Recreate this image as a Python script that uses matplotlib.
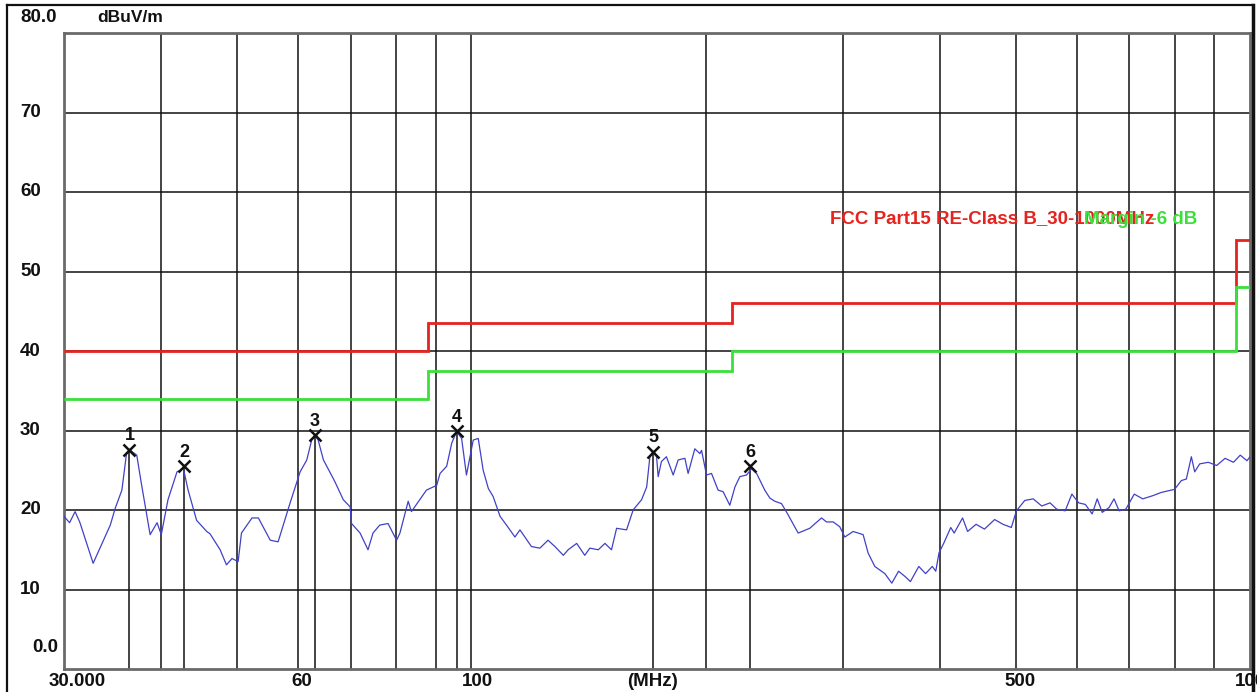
import matplotlib
matplotlib.use('Agg')
import matplotlib.pyplot as plt
from matplotlib import transforms
from matplotlib.lines import Line2D
from matplotlib.ticker import NullLocator

# ---------------- data ----------------
freq_mhz = [30.0, 30.5, 31.0, 31.45, 32.7, 34.4, 34.9, 35.6, 36.1, 36.5, 37.2, 37.7, 38.7, 39.5, 40.0,
            40.8, 41.9, 42.7, 43.3, 44.4, 45.75, 46.2, 47.6, 48.5, 49.3, 50.2, 50.7, 52.3, 53.3, 55.2,
            56.5, 58.5, 60.3, 61.5, 62.4, 63.0, 63.6, 64.6, 66.8, 68.5, 69.9, 70.2, 72.0, 73.7, 74.8,
            76.3, 78.2, 80.2, 81.0, 83.0, 83.8, 87.6, 90.3, 91.2, 93.0, 94.4, 95.8, 97.2, 98.6, 100.6,
            102.1, 103.6, 105.2, 106.7, 108.9, 111.0, 113.8, 115.5, 119.5, 122.5, 125.5, 128.1, 131.3,
            133.2, 136.6, 139.9, 142.0, 145.6, 148.5, 151.4, 153.7, 158.3, 161.4, 165.5, 168.0, 169.6,
            171.3, 173.0, 173.8, 175.5, 178.1, 181.7, 184.4, 188.1, 189.9, 193.7, 196.6, 197.6, 200.5,
            203.5, 207.5, 210.6, 214.8, 218.1, 221.3, 225.7, 229.1, 232.5, 238.2, 241.8, 245.4, 250.3,
            255.2, 262.9, 272.1, 281.7, 285.9, 291.6, 297.3, 301.8, 309.3, 318.6, 323.3, 329.8, 339.7,
            346.8, 353.8, 361.0, 366.4, 375.6, 383.2, 390.9, 394.9, 398.7, 404.7, 412.8, 417.0, 427.5,
            433.9, 444.9, 456.1, 470.0, 481.8, 493.8, 501.3, 513.8, 526.8, 540.3, 553.6, 564.7, 579.0,
            590.6, 602.6, 614.6, 627.1, 636.5, 646.0, 659.1, 669.0, 679.1, 692.7, 710.2, 728.2, 750.1,
            768.8, 800.2, 816.2, 828.5, 840.8, 849.2, 861.8, 883.9, 906.2, 929.0, 952.3, 971.6, 991.1,
            1000.0]
level_dbuv = [19.2, 18.4, 19.8, 18.4, 13.3, 18.1, 20.2, 22.5, 27.2, 27.5, 26.9, 23.4, 16.9, 18.4, 16.9,
              21.3, 24.8, 25.2, 22.5, 18.7, 17.3, 17.0, 15.0, 13.1, 13.9, 13.5, 17.1, 19.0, 19.0, 16.2,
              16.0, 20.8, 24.8, 26.3, 28.8, 29.4, 28.8, 26.3, 23.6, 21.3, 20.4, 18.3, 17.1, 15.0, 17.1,
              18.1, 18.3, 16.2, 17.1, 21.1, 19.8, 22.5, 23.1, 24.6, 25.5, 28.4, 29.9, 29.0, 24.4, 28.8,
              29.0, 25.0, 22.7, 21.7, 19.2, 18.1, 16.6, 17.5, 15.4, 15.2, 16.2, 15.4, 14.3,
              15.0, 15.8, 14.3, 15.2, 15.0, 15.8, 15.0, 17.7, 17.5, 20.0, 21.3, 22.9, 26.7,
              27.3, 26.7, 24.2, 26.1, 26.7, 24.4, 26.3, 26.5, 24.6, 27.7, 27.1, 27.5, 24.4,
              24.6, 22.5, 22.3, 20.6, 22.9, 24.2, 24.4, 25.2, 24.6, 22.5, 21.5, 21.1, 20.8,
              19.4, 17.1, 17.7, 19.0, 18.5, 18.5, 17.9, 16.6, 17.3, 16.9, 14.6, 12.9, 12.0,
              10.8, 12.3, 11.6, 11.0, 12.9, 12.0, 12.9, 12.3, 14.6, 15.9, 17.8, 17.1, 19.0,
              17.3, 18.2, 17.6, 18.8, 18.2, 17.8, 19.9, 21.2, 21.4, 20.5, 20.9, 20.1, 19.9,
              22.0, 20.9, 20.7, 19.5, 21.4, 19.7, 20.3, 21.4, 19.9, 20.1, 22.0, 21.4, 21.8,
              22.2, 22.6, 23.7, 23.9, 26.7, 24.8, 25.8, 26.0, 25.6, 26.5, 26.0, 26.9, 26.2,
              26.7]

limit_edges_mhz = [30, 88, 216, 960, 1000]
limit_levels = [40.0, 43.5, 46.0, 54.0]
margin_db = 6.0

marker_ids = ['1', '2', '3', '4', '5', '6']
marker_freq = [36.4, 42.8, 63.0, 95.8, 171.2, 228.3]
marker_level = [27.6, 25.5, 29.4, 29.9, 27.3, 25.5]

grid_x = [40, 50, 60, 70, 80, 90, 100, 200, 300, 400, 500, 600, 700, 800, 900]
grid_y = [10, 20, 30, 40, 50, 60, 70]

xtick_vals = [30, 60, 100, 500, 1000]
xtick_text = ['30.000', '60', '100', '500', '1000']
ytick_vals = [80, 70, 60, 50, 40, 30, 20, 10, 0]
ytick_text = ['80.0', '70', '60', '50', '40', '30', '20', '10', '0.0']

limit_name = 'FCC Part15 RE-Class B_30-1000MHz'
margin_name = 'Margin -6 dB'
unit_text = 'dBuV/m'
freq_unit = '(MHz)'

# ---------------- style ----------------
plt.rcParams['font.family'] = ['Liberation Sans', 'DejaVu Sans']
FS = 13.5
W, H = 1257, 692
fig = plt.figure(figsize=(W / 100, H / 100), dpi=100)
fig.patch.set_facecolor('white')
x0, x1, y0, y1 = 64, 1250, 33, 669
ax = fig.add_axes([x0 / W, 1 - y1 / H, (x1 - x0) / W, (y1 - y0) / H])
ax.set_xscale('log')
ax.set_xlim(30, 1000)
ax.set_ylim(0, 80)

ax.set_xticks(grid_x)
ax.xaxis.set_minor_locator(NullLocator())
ax.set_yticks(grid_y)
ax.tick_params(length=0, labelbottom=False, labelleft=False)
ax.grid(True, color='#111111', linewidth=1.1, zorder=1)
ax.set_axisbelow(True)
for s in ax.spines.values():
    s.set_color('#6a6a6a')
    s.set_linewidth(2.0)

# limit lines
ax.stairs(limit_levels, limit_edges_mhz, baseline=None, color='#e5231f', linewidth=2.0, zorder=3)
ax.stairs([v - margin_db for v in limit_levels], limit_edges_mhz, baseline=None,
          color='#3be03b', linewidth=2.0, zorder=3)

# measurement trace
ax.plot(freq_mhz, level_dbuv, color='#4141c8', linewidth=0.9, zorder=4)

# markers
ax.vlines(marker_freq, 0, marker_level, color='#111111', linewidth=1.1, zorder=2)
ax.plot(marker_freq, marker_level, linestyle='none', marker='x', markersize=8,
        markeredgewidth=1.8, color='#111111', zorder=5)
for mid, mf, ml in zip(marker_ids, marker_freq, marker_level):
    t = transforms.offset_copy(ax.transData, fig=fig, x=0, y=14, units='dots')
    ax.text(mf, ml, mid, transform=t, ha='center', va='center', fontsize=FS - 0.5,
            fontweight='bold', color='#111111', zorder=6)

# legend-like texts
ax.text((830 - x0) / (x1 - x0), (y1 - 219) / (y1 - y0), limit_name, transform=ax.transAxes,
        ha='left', va='center', fontsize=FS, fontweight='bold', color='#e5231f', zorder=6)
ax.text((1197 - x0) / (x1 - x0), (y1 - 219) / (y1 - y0), margin_name, transform=ax.transAxes,
        ha='right', va='center', fontsize=FS, fontweight='bold', color='#3be03b', zorder=7)

# y tick labels
ylab_trans = transforms.blended_transform_factory(fig.transFigure, ax.transData)
for v, txt in zip(ytick_vals, ytick_text):
    dy = 0
    xp = 20
    if v == 80:
        dy = 15
    if v == 0:
        dy = 22
        xp = 32
    t = transforms.offset_copy(ylab_trans, fig=fig, x=0, y=dy, units='dots')
    ax.text(xp / W, v, txt, transform=t, ha='left', va='center', fontsize=FS,
            fontweight='bold', color='#111111', clip_on=False)

# unit text
ax.text((97 - x0) / (x1 - x0), 1 + 15 / (y1 - y0), unit_text, transform=ax.transAxes,
        ha='left', va='center', fontsize=FS - 1, fontweight='bold', color='#111111')

# x tick labels
xlab_offsets = [13, 3, 6, 4, 6]
xtrans = ax.get_xaxis_transform()
for v, txt, dx in zip(xtick_vals, xtick_text, xlab_offsets):
    t = transforms.offset_copy(xtrans, fig=fig, x=dx, y=-12, units='dots')
    ax.text(v, 0, txt, transform=t, ha='center', va='center', fontsize=FS,
            fontweight='bold', color='#111111', clip_on=False)
t = transforms.offset_copy(ax.transAxes, fig=fig, x=0, y=-12, units='dots')
ax.text((652 - x0) / (x1 - x0), 0, freq_unit, transform=t, ha='center', va='center',
        fontsize=FS, fontweight='bold', color='#111111', clip_on=False)

# outer frame
fig.add_artist(Line2D([7 / W, 7 / W], [0, 1 - 5 / H], transform=fig.transFigure,
                      color='#111111', linewidth=1.6, zorder=10))
fig.add_artist(Line2D([7 / W, 1252 / W], [1 - 5 / H, 1 - 5 / H], transform=fig.transFigure,
                      color='#111111', linewidth=1.6, zorder=10))
fig.add_artist(Line2D([1253 / W, 1253 / W], [0, 1 - 5 / H], transform=fig.transFigure,
                      color='#111111', linewidth=2.5, zorder=10))

fig.savefig('out.png', dpi=100, facecolor='white')
